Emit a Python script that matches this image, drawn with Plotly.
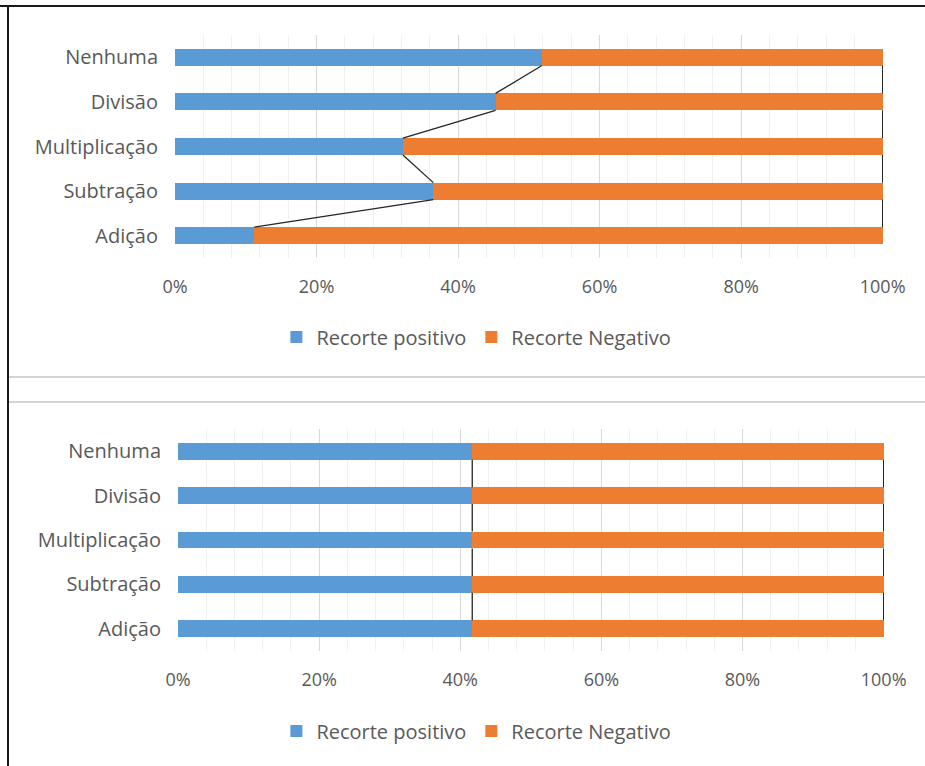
import plotly.graph_objects as go

categories = ["Adição", "Subtração", "Multiplicação", "Divisão", "Nenhuma"]
top_positive = [0.112, 0.365, 0.322, 0.453, 0.518]
bottom_positive = [0.417, 0.417, 0.417, 0.417, 0.417]
series_names = ["Recorte positivo", "Recorte Negativo"]
tick_vals = [0, 0.2, 0.4, 0.6, 0.8, 1.0]
tick_text = ["0%", "20%", "40%", "60%", "80%", "100%"]

BLUE = "#5B9BD5"
ORANGE = "#ED7D31"
TXT = "#595959"
FONT = "Open Sans"
BW = 0.38

W, H = 925, 766


def px_x(x):
    return x / W


def px_y(y):
    return 1 - y / H


fig = go.Figure()

ypos = list(range(len(categories)))


def add_chart(pos_vals, xa, ya, legend):
    neg_vals = [1 - v for v in pos_vals]
    fig.add_trace(go.Bar(y=ypos, x=pos_vals, orientation="h", name=series_names[0],
                         marker=dict(color=BLUE, line=dict(width=0)), width=BW,
                         xaxis=xa, yaxis=ya, legend=legend))
    fig.add_trace(go.Bar(y=ypos, x=neg_vals, orientation="h", name=series_names[1],
                         marker=dict(color=ORANGE, line=dict(width=0)), width=BW,
                         xaxis=xa, yaxis=ya, legend=legend))
    # series lines
    for k in range(len(categories) - 1):
        for xs in ([pos_vals[k + 1], pos_vals[k]], [1.0, 1.0]):
            fig.add_trace(go.Scatter(x=xs, y=[k + 1 - BW / 2, k + BW / 2], mode="lines",
                                     line=dict(color="#262626", width=1.3),
                                     xaxis=xa, yaxis=ya, showlegend=False, hoverinfo="skip"))


add_chart(top_positive, "x", "y", "legend")
add_chart(bottom_positive, "x2", "y2", "legend2")

xcommon = dict(range=[0, 1.0005], tickvals=tick_vals, ticktext=tick_text,
               showgrid=True, gridcolor="#D9D9D9", gridwidth=1,
               minor=dict(dtick=0.04, tick0=0, showgrid=True, gridcolor="#F0F0F0", gridwidth=1),
               zeroline=False, showline=False, ticks="", automargin=False,
               tickfont=dict(family=FONT, size=18, color=TXT), ticklabelstandoff=16,
               fixedrange=True)
ycommon = dict(range=[-0.5, 4.5], tickvals=ypos, ticktext=categories, showgrid=False,
               zeroline=False, showline=False, ticks="", automargin=False,
               tickfont=dict(family=FONT, size=20, color=TXT), ticklabelstandoff=16,
               fixedrange=True)

legend_common = dict(orientation="h", xanchor="center", yanchor="middle", x=0.515,
                     font=dict(family=FONT, size=20, color=TXT), traceorder="normal",
                     itemwidth=30, bgcolor="rgba(0,0,0,0)")

fig.update_layout(
    width=W, height=H, margin=dict(l=0, r=0, t=0, b=0, autoexpand=False),
    paper_bgcolor="white", plot_bgcolor="white",
    barmode="stack",
    xaxis=dict(domain=[px_x(175), px_x(883)], anchor="y", **xcommon),
    yaxis=dict(domain=[px_y(258), px_y(35)], anchor="x", **ycommon),
    xaxis2=dict(domain=[px_x(178), px_x(884)], anchor="y2", **xcommon),
    yaxis2=dict(domain=[px_y(651), px_y(429)], anchor="x2", **ycommon),
    legend=dict(y=px_y(337), **legend_common),
    legend2=dict(y=px_y(731), **legend_common),
    shapes=[
        dict(type="line", xref="paper", yref="paper", x0=0, x1=1, y0=px_y(6), y1=px_y(6),
             line=dict(color="#1a1a1a", width=2)),
        dict(type="line", xref="paper", yref="paper", x0=px_x(8), x1=px_x(8), y0=0, y1=px_y(5),
             line=dict(color="#1a1a1a", width=2)),
        dict(type="line", xref="paper", yref="paper", x0=px_x(9), x1=1, y0=px_y(377), y1=px_y(377),
             line=dict(color="#D4D4D4", width=2)),
        dict(type="line", xref="paper", yref="paper", x0=px_x(9), x1=1, y0=px_y(402), y1=px_y(402),
             line=dict(color="#D4D4D4", width=2)),
    ],
)

fig.write_html("out.html", config={"displayModeBar": False},
               post_script="document.body.style.margin='0px';")
